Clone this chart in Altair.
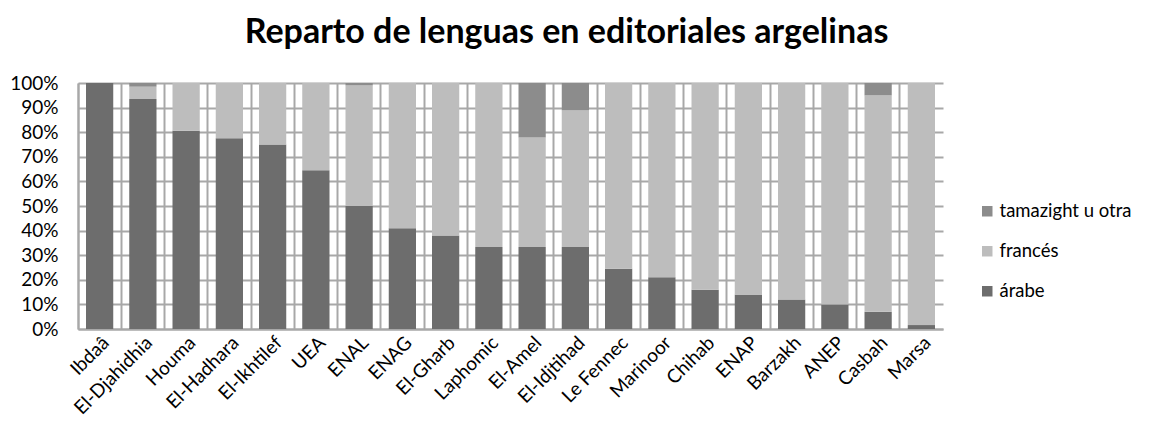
import altair as alt
import pandas as pd

editoriales = ["Ibdaâ", "El-Djahidhia", "Houma", "El-Hadhara", "El-Ikhtilef", "UEA",
               "ENAL", "ENAG", "El-Gharb", "Laphomic", "El-Amel", "El-Idjtihad",
               "Le Fennec", "Marinoor", "Chihab", "ENAP", "Barzakh", "ANEP", "Casbah", "Marsa"]
arabe = [100, 93.5, 80.6, 77.5, 75, 64.5, 50, 41, 38, 33.3, 33.3, 33.3,
         24.5, 21, 16, 14, 12, 10, 7, 1.6]
frances = [0, 5, 19.4, 22.5, 25, 35.5, 49, 59, 62, 66.7, 44.5, 55.6,
           75.5, 79, 84, 86, 88, 90, 88, 98.4]
otra = [0, 1.5, 0, 0, 0, 0, 1, 0, 0, 0, 22.2, 11.1,
        0, 0, 0, 0, 0, 0, 5, 0]

series = ["árabe", "francés", "tamazight u otra"]
colores = ["#6d6d6d", "#bdbdbd", "#8c8c8c"]
y_ticks = [0, 10, 20, 30, 40, 50, 60, 70, 80, 90, 100]

rows = []
for i, ed in enumerate(editoriales):
    for k, (name, vals) in enumerate(zip(series, [arabe, frances, otra])):
        rows.append({"editorial": ed, "lengua": name, "valor": vals[i], "orden": k})
df = pd.DataFrame(rows)

FONT = "Lato"
GRID = "#a8a8a8"

x_scale = alt.Scale(paddingInner=0, paddingOuter=0)
y_enc = alt.Y("valor:Q", stack="zero",
              scale=alt.Scale(domain=[0, 100], nice=False),
              axis=alt.Axis(values=y_ticks, labelExpr="datum.value + '%'", title=None,
                            grid=True, gridColor=GRID, gridWidth=2, ticks=False,
                            domain=True, domainColor=GRID, domainWidth=2,
                            labelPadding=20, labelFontSize=19, labelFont=FONT,
                            labelColor="#000000"))

bars = alt.Chart(df).mark_bar(width={"band": 0.63}).encode(
    x=alt.X("editorial:N", sort=editoriales, scale=x_scale,
            axis=alt.Axis(title=None, orient="bottom", labelAngle=-45, labelAlign="right",
                          labelBaseline="top",
                          labelFontSize=19, labelFont=FONT, labelColor="#000000",
                          labelPadding=4, ticks=False, grid=False,
                          domainColor=GRID, domainWidth=2)),
    y=y_enc,
    color=alt.Color("lengua:N",
                    scale=alt.Scale(domain=["tamazight u otra", "francés", "árabe"],
                                    range=[colores[2], colores[1], colores[0]]),
                    legend=alt.Legend(title=None, orient="none", legendX=900, legendY=119,
                                      symbolType="square", symbolSize=110,
                                      symbolStrokeWidth=0, symbolOpacity=1,
                                      labelFontSize=18.5, labelFont=FONT, labelColor="#000000",
                                      labelOffset=3, rowPadding=21, padding=0,
                                      labelLimit=300)),
    order=alt.Order("orden:Q", sort="ascending"),
)

grid = alt.Chart(df).mark_point(opacity=0).encode(
    x=alt.X("editorial:N", sort=editoriales, scale=x_scale,
            axis=alt.Axis(title=None, orient="bottom", labels=False, ticks=False, domain=False,
                          grid=True, gridColor=GRID, gridWidth=2, bandPosition=0)),
)

chart = alt.layer(grid, bars).resolve_axis(x="independent").properties(
    width=865, height=246,
    padding={"left": 70, "top": 75, "right": 199, "bottom": 90},
    autosize=alt.AutoSizeParams(type="none"),
    title=alt.TitleParams("Reparto de lenguas en editoriales argelinas",
                          font=FONT, fontSize=34, fontWeight="bold", color="#000000",
                          anchor="middle", dx=56, offset=24),
).configure_view(stroke=None)

chart.save("out.html", embed_options={"renderer": "svg", "actions": False})
